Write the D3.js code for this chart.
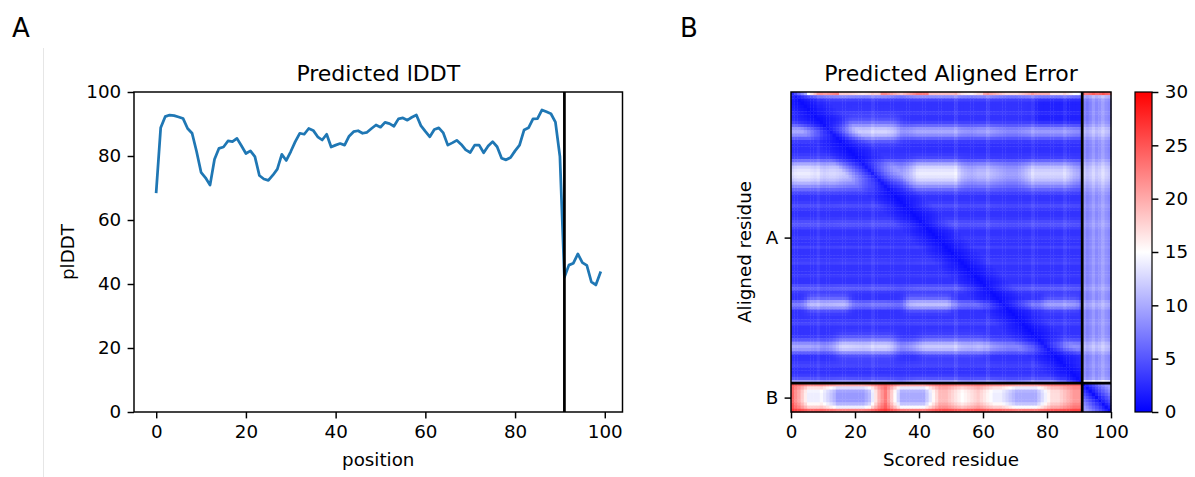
<!DOCTYPE html>
<html>
<head>
<meta charset="utf-8">
<script src="https://cdn.jsdelivr.net/npm/d3@7"></script>
<style>
  body { margin: 0; background: #fff; }
  svg { display: block; font-family: "DejaVu Sans", sans-serif; }
</style>
</head>
<body>
<div id="chart"></div>
<script>
const width = 1195;
const height = 477;

// pLDDT per residue (chain A = 0..90, chain B = 91..99)
const plddt = [
  68.8, 88.8, 92.3, 92.8, 92.6, 92.2, 91.7, 88.6, 87.1, 81.4,
  74.9, 73.2, 70.9, 79.0, 82.4, 82.8, 84.7, 84.5, 85.5, 83.2,
  80.8, 81.6, 79.8, 73.9, 72.8, 72.4, 74.0, 75.9, 80.5, 78.6,
  81.4, 84.5, 87.1, 86.8, 88.6, 88.0, 86.0, 85.0, 86.8, 82.8,
  83.4, 83.9, 83.4, 86.2, 87.6, 87.9, 87.1, 87.4, 88.6, 89.7,
  89.0, 90.5, 90.1, 89.3, 91.6, 91.9, 91.2, 92.1, 92.8, 89.5,
  87.7, 86.0, 88.3, 88.8, 87.2, 83.4, 84.1, 84.9, 83.6, 81.9,
  81.1, 83.4, 83.4, 81.0, 83.1, 84.5, 82.9, 79.3, 78.8, 79.5,
  81.6, 83.4, 88.1, 88.8, 91.6, 91.7, 94.4, 93.8, 93.2, 90.6,
  79.8, 42.1, 45.9, 46.5, 49.4, 46.7, 45.8, 40.7, 39.7, 43.5
];
const chainNames = ['A', 'B'];
const chainLengths = [91, 9];

const posTicks = [0, 20, 40, 60, 80, 100];
const plddtTicks = [0, 20, 40, 60, 80, 100];
const paeTicks = [0, 20, 40, 60, 80, 100];
const cbTicks = [0, 5, 10, 15, 20, 25, 30];

// PAE: background error of each aligned-residue row
const paeRowErr = [
  18, 8, 4, 3, 3, 3, 3.5, 3, 3, 4,
  6, 8.5, 9.5, 8, 5.5, 3.5, 2.8, 2.8, 2.8, 3.2,
  3.5, 5.5, 8, 10, 11, 11.5, 11, 10, 8.5, 7,
  5.5, 4, 3, 3, 3.5, 4.5, 3.5, 3, 3, 3.5,
  4.5, 5, 4, 3, 3, 3.5, 3, 3, 4, 3,
  3, 3, 3.5, 4, 3, 3, 3, 3.5, 3, 3,
  4.5, 5.5, 3.5, 3, 3, 5.5, 7, 5.5, 3, 3,
  3, 3.5, 4, 3, 3, 3, 3.5, 5, 8, 9.5,
  8.5, 5.5, 3, 3, 3.5, 4, 3, 3, 3.5, 5,
  9, 24, 22, 21, 21, 21, 21, 22, 23, 26
];
// how strongly the row bands show in each chain A column [from, to, weight]
const paeColWeight = [
  [0, 7, 1.05], [8, 12, 0.85], [13, 19, 1.0], [20, 24, 0.9], [25, 31, 1.0],
  [32, 36, 0.75], [37, 53, 1.05], [54, 55, 0.7], [56, 64, 0.95], [65, 72, 0.75],
  [73, 88, 0.95], [89, 90, 0.7]
];
const paeStripeCols = [8, 25, 51, 61, 75, 85];
// chain B rows against chain A columns [from, to, offset]
const paeBCols = [
  [0, 2, 3], [3, 10, -7], [11, 11, -4], [12, 24, -12], [25, 26, -7], [27, 31, 2],
  [32, 43, -11], [44, 50, -2], [51, 55, -6], [56, 60, -3], [61, 67, -7],
  [68, 78, -11], [79, 85, -4], [86, 90, 0]
];
// how deep the chain B row pattern goes on each chain B row
const paeBRowDepth = [0.3, 0.75, 0.95, 1, 1, 1, 0.95, 0.75, 0.3];
// chain A rows against chain B columns
const paeABCols = [0.5, -0.5, 0, 1, 0, 0.5, 1.5, 0.5, 0];
// local light / dark spots [rowFrom, rowTo, colFrom, colTo, add, softness]
const paeSpots = [
  [0, 0, 5, 14, 5, 0], [0, 0, 28, 42, 4, 0], [0, 0, 60, 80, 3, 0], [0, 0, 91, 99, 9, 0],
  [90, 90, 91, 99, 3, 0], [2, 8, 78, 90, -1, 2],
  [23, 27, 2, 12, 2, 2], [23, 27, 40, 50, 2, 2], [24, 27, 75, 85, 1.5, 2],
  [10, 13, 19, 31, 3, 2], [78, 80, 16, 30, 3, 2], [78, 80, 42, 58, 2, 2],
  [65, 66, 6, 16, 4, 1.5], [65, 66, 37, 48, 4, 1.5], [65, 66, 80, 88, 2.5, 1.5]
];

const nRes = plddt.length;
const lenA = chainLengths[0];
const bounds = d3.cumsum(chainLengths);
const chainMid = chainLengths.map((l, k) => bounds[k] - l / 2);

function segVal(segs, j, def) {
  const s = segs.find(s => j >= s[0] && j <= s[1]);
  return s ? s[2] : def;
}

// segment value softened over neighbouring columns of chain A
function segSoft(segs, j, def) {
  const js = d3.range(j - 2, j + 3).filter(k => k >= 0 && k < lenA);
  return d3.mean(js, k => segVal(segs, k, def));
}

function spotAdd(i, j) {
  let add = 0;
  paeSpots.forEach(([r0, r1, c0, c1, a, s]) => {
    const dr = Math.max(r0 - i, 0, i - r1);
    const dc = Math.max(c0 - j, 0, j - c1);
    if (s === 0) {
      if (dr === 0 && dc === 0) add += a;
    } else {
      add += a * Math.exp(-(dr * dr + dc * dc) / (2 * s * s));
    }
  });
  return add;
}

const cells = [];
for (let i = 0; i < nRes; i++) {
  for (let j = 0; j < nRes; j++) {
    let v;
    if (i < lenA && j < lenA) {
      v = 3 + (paeRowErr[i] - 3) * segSoft(paeColWeight, j, 1);
      if (paeStripeCols.includes(j)) v += 0.8;
      v += spotAdd(i, j);
      const d = Math.abs(i - j);
      v = 0.4 + (v - 0.4) * Math.min(1, 0.12 + d / 10);
    } else if (i < lenA) {
      v = 8 + (paeRowErr[i] - 3) * 0.45 + paeABCols[j - lenA] + spotAdd(i, j);
    } else if (j < lenA) {
      v = paeRowErr[i] + segSoft(paeBCols, j, 0) * paeBRowDepth[i - lenA];
    } else {
      v = Math.min(9, 0.8 + Math.abs(i - j) * 1.2);
    }
    cells.push({ i: i, j: j, v: Math.max(0, Math.min(30, v)) });
  }
}

const svg = d3.select('#chart')
  .append('svg')
  .attr('width', width)
  .attr('height', height);

const fs = '18.3px';
const styleAxis = (g) => {
  g.attr('font-family', '"DejaVu Sans", sans-serif').attr('font-size', fs);
  g.select('.domain').remove();
  g.selectAll('.tick line').attr('stroke', '#000').attr('stroke-width', 1.47);
  g.selectAll('.tick text').attr('fill', '#000');
};

// thin frame line on the left
svg.append('line')
  .attr('x1', 43.5).attr('x2', 43.5)
  .attr('y1', 48).attr('y2', 477)
  .attr('stroke', '#e6e6e6');

svg.append('text').attr('x', 12).attr('y', 37).attr('font-size', '26px').text('A');
svg.append('text').attr('x', 680).attr('y', 37).attr('font-size', '26px').text('B');

// ---- Panel A: pLDDT ----
const m1 = { left: 134, right: 622.5, top: 92, bottom: 412 };
const x1 = d3.scaleLinear().domain([-4.95, 103.95]).range([m1.left, m1.right]);
const y1 = d3.scaleLinear().domain([0, 100]).range([m1.bottom, m1.top]);

svg.append('path')
  .datum(plddt)
  .attr('fill', 'none')
  .attr('stroke', '#1f77b4')
  .attr('stroke-width', 2.75)
  .attr('stroke-linejoin', 'round')
  .attr('stroke-linecap', 'square')
  .attr('d', d3.line().x((d, i) => x1(i)).y(d => y1(d)));

bounds.slice(0, -1).forEach(b => {
  svg.append('line')
    .attr('x1', x1(b)).attr('x2', x1(b))
    .attr('y1', m1.top).attr('y2', m1.bottom)
    .attr('stroke', '#000').attr('stroke-width', 2.75);
});

svg.append('rect')
  .attr('x', m1.left).attr('y', m1.top)
  .attr('width', m1.right - m1.left).attr('height', m1.bottom - m1.top)
  .attr('fill', 'none').attr('stroke', '#000').attr('stroke-width', 1.47);

svg.append('g')
  .attr('transform', `translate(0,${m1.bottom})`)
  .call(d3.axisBottom(x1).tickValues(posTicks).tickSize(6.4).tickPadding(6.4))
  .call(styleAxis);

svg.append('g')
  .attr('transform', `translate(${m1.left},0)`)
  .call(d3.axisLeft(y1).tickValues(plddtTicks).tickSize(6.4).tickPadding(6.4))
  .call(styleAxis);

svg.append('text')
  .attr('x', (m1.left + m1.right) / 2).attr('y', 81)
  .attr('text-anchor', 'middle').attr('font-size', '22px')
  .text('Predicted lDDT');

svg.append('text')
  .attr('x', (m1.left + m1.right) / 2).attr('y', 466)
  .attr('text-anchor', 'middle').attr('font-size', fs)
  .text('position');

svg.append('text')
  .attr('transform', `translate(74,${(m1.top + m1.bottom) / 2}) rotate(-90)`)
  .attr('text-anchor', 'middle').attr('font-size', fs)
  .text('plDDT');

// ---- Panel B: PAE ----
const m2 = { left: 791, right: 1111, top: 92, bottom: 412 };
const xh = d3.scaleLinear().domain([0, 100]).range([m2.left, m2.right]);
const yh = d3.scaleLinear().domain([0, 100]).range([m2.top, m2.bottom]);
const color = d3.scaleLinear()
  .domain([0, 15, 30])
  .range(['#0000ff', '#ffffff', '#ff0000'])
  .clamp(true);

svg.append('g')
  .selectAll('rect')
  .data(cells)
  .enter()
  .append('rect')
  .attr('x', d => xh(d.j))
  .attr('y', d => yh(d.i))
  .attr('width', d => xh(d.j + 1) - xh(d.j) + 0.4)
  .attr('height', d => yh(d.i + 1) - yh(d.i) + 0.4)
  .attr('fill', d => color(d.v));

bounds.slice(0, -1).forEach(b => {
  svg.append('line')
    .attr('x1', xh(b)).attr('x2', xh(b))
    .attr('y1', m2.top).attr('y2', m2.bottom)
    .attr('stroke', '#000').attr('stroke-width', 2.75);
  svg.append('line')
    .attr('x1', m2.left).attr('x2', m2.right)
    .attr('y1', yh(b)).attr('y2', yh(b))
    .attr('stroke', '#000').attr('stroke-width', 2.75);
});

svg.append('rect')
  .attr('x', m2.left).attr('y', m2.top)
  .attr('width', m2.right - m2.left).attr('height', m2.bottom - m2.top)
  .attr('fill', 'none').attr('stroke', '#000').attr('stroke-width', 1.47);

svg.append('g')
  .attr('transform', `translate(0,${m2.bottom})`)
  .call(d3.axisBottom(xh).tickValues(paeTicks).tickSize(6.4).tickPadding(6.4))
  .call(styleAxis);

const yChain = d3.scaleLinear().domain([0, 100]).range([m2.top, m2.bottom]);
svg.append('g')
  .attr('transform', `translate(${m2.left},0)`)
  .call(d3.axisLeft(yChain).tickValues(chainMid)
    .tickFormat((d, k) => chainNames[k]).tickSize(6.4).tickPadding(6.4))
  .call(styleAxis);

svg.append('text')
  .attr('x', (m2.left + m2.right) / 2).attr('y', 81)
  .attr('text-anchor', 'middle').attr('font-size', '22px')
  .text('Predicted Aligned Error');

svg.append('text')
  .attr('x', (m2.left + m2.right) / 2).attr('y', 466)
  .attr('text-anchor', 'middle').attr('font-size', fs)
  .text('Scored residue');

svg.append('text')
  .attr('transform', `translate(751,${(m2.top + m2.bottom) / 2}) rotate(-90)`)
  .attr('text-anchor', 'middle').attr('font-size', fs)
  .text('Aligned residue');

// ---- colorbar ----
const cb = { left: 1135, right: 1152, top: 92, bottom: 412 };
const cbScale = d3.scaleLinear().domain([0, 30]).range([cb.bottom, cb.top]);
const grad = svg.append('defs').append('linearGradient')
  .attr('id', 'bwr')
  .attr('x1', 0).attr('y1', 1).attr('x2', 0).attr('y2', 0);
[0, 15, 30].forEach(v => {
  grad.append('stop').attr('offset', v / 30).attr('stop-color', color(v));
});
svg.append('rect')
  .attr('x', cb.left).attr('y', cb.top)
  .attr('width', cb.right - cb.left).attr('height', cb.bottom - cb.top)
  .attr('fill', 'url(#bwr)')
  .attr('stroke', '#000').attr('stroke-width', 1.2);

svg.append('g')
  .attr('transform', `translate(${cb.right},0)`)
  .call(d3.axisRight(cbScale).tickValues(cbTicks).tickSize(6.4).tickPadding(6.4))
  .call(styleAxis);
</script>
</body>
</html>
